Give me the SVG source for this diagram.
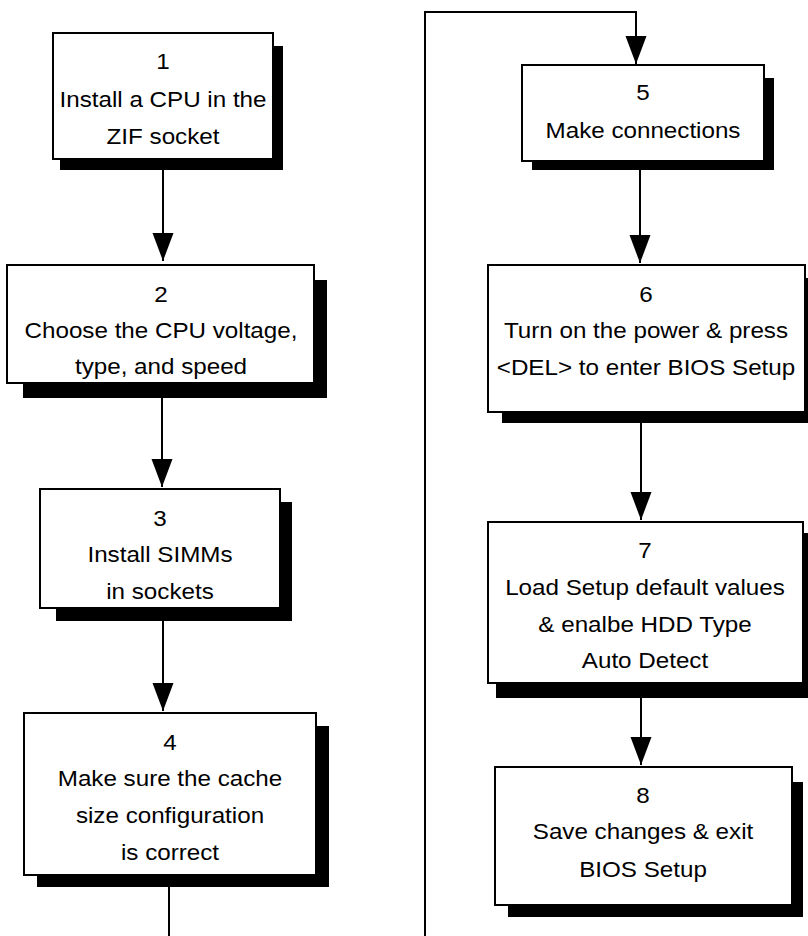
<svg xmlns="http://www.w3.org/2000/svg" width="808" height="936" viewBox="0 0 808 936">
<style>
.box{fill:#fff;stroke:#000;stroke-width:2}
.sh{fill:#000}
.ln{fill:none;stroke:#000;stroke-width:2}
text{font-family:"Liberation Sans",Arial,sans-serif;font-size:22px;fill:#000;text-anchor:middle}
</style>
<defs>
<marker id="ah" markerUnits="userSpaceOnUse" markerWidth="28" markerHeight="22" viewBox="0 0 28 22" refX="28" refY="11" orient="auto">
<path d="M0,0.5 L28,11 L0,21.5 z" fill="#000"/>
</marker>
</defs>
<rect width="808" height="936" fill="#fff"/>
<g id="connectors">
<path class="ln" d="M163 170 V261" marker-end="url(#ah)"/>
<path class="ln" d="M162 398 V487" marker-end="url(#ah)"/>
<path class="ln" d="M163 621 V711" marker-end="url(#ah)"/>
<path class="ln" d="M169 887 V936"/>
<path class="ln" d="M425 936 V12 H636 V64" marker-end="url(#ah)"/>
<path class="ln" d="M640 170 V263" marker-end="url(#ah)"/>
<path class="ln" d="M641 423 V520" marker-end="url(#ah)"/>
<path class="ln" d="M641 698 V765" marker-end="url(#ah)"/>
</g>
<g id="step1">
<rect class="sh" x="60" y="46" width="223" height="124"/>
<rect class="box" x="53" y="33" width="220" height="126"/>
<g transform="translate(163,0) scale(1.1,1)">
<text x="0" y="69">1</text>
<text x="0" y="107">Install a CPU in the</text>
<text x="0" y="144">ZIF socket</text>
</g>
</g>
<g id="step2">
<rect class="sh" x="23" y="280" width="304" height="118"/>
<rect class="box" x="7" y="265" width="307" height="118"/>
<g transform="translate(161,0) scale(1.1,1)">
<text x="0" y="302">2</text>
<text x="0" y="338">Choose the CPU voltage,</text>
<text x="0" y="374">type, and speed</text>
</g>
</g>
<g id="step3">
<rect class="sh" x="56" y="502" width="236" height="119"/>
<rect class="box" x="40" y="489" width="240" height="119"/>
<g transform="translate(160,0) scale(1.1,1)">
<text x="0" y="526">3</text>
<text x="0" y="562">Install SIMMs</text>
<text x="0" y="599">in sockets</text>
</g>
</g>
<g id="step4">
<rect class="sh" x="37" y="726" width="292" height="161"/>
<rect class="box" x="24" y="713" width="292" height="162"/>
<g transform="translate(170,0) scale(1.1,1)">
<text x="0" y="750">4</text>
<text x="0" y="786">Make sure the cache</text>
<text x="0" y="823">size configuration</text>
<text x="0" y="860">is correct</text>
</g>
</g>
<g id="step5">
<rect class="sh" x="532" y="78" width="242" height="92"/>
<rect class="box" x="522" y="65" width="242" height="96"/>
<g transform="translate(643,0) scale(1.1,1)">
<text x="0" y="100">5</text>
<text x="0" y="138">Make connections</text>
</g>
</g>
<g id="step6">
<rect class="sh" x="502" y="278" width="310" height="145"/>
<rect class="box" x="488" y="265" width="317" height="147"/>
<g transform="translate(646,0) scale(1.1,1)">
<text x="0" y="302">6</text>
<text x="0" y="338">Turn on the power &amp; press</text>
<text x="0" y="375">&lt;DEL&gt; to enter BIOS Setup</text>
</g>
</g>
<g id="step7">
<rect class="sh" x="496" y="533" width="316" height="165"/>
<rect class="box" x="488" y="522" width="315" height="161"/>
<g transform="translate(645,0) scale(1.1,1)">
<text x="0" y="558">7</text>
<text x="0" y="595">Load Setup default values</text>
<text x="0" y="632">&amp; enalbe HDD Type</text>
<text x="0" y="668">Auto Detect</text>
</g>
</g>
<g id="step8">
<rect class="sh" x="508" y="782" width="295" height="135"/>
<rect class="box" x="495" y="767" width="297" height="138"/>
<g transform="translate(643,0) scale(1.1,1)">
<text x="0" y="803">8</text>
<text x="0" y="839">Save changes &amp; exit</text>
<text x="0" y="877">BIOS Setup</text>
</g>
</g>
</svg>
